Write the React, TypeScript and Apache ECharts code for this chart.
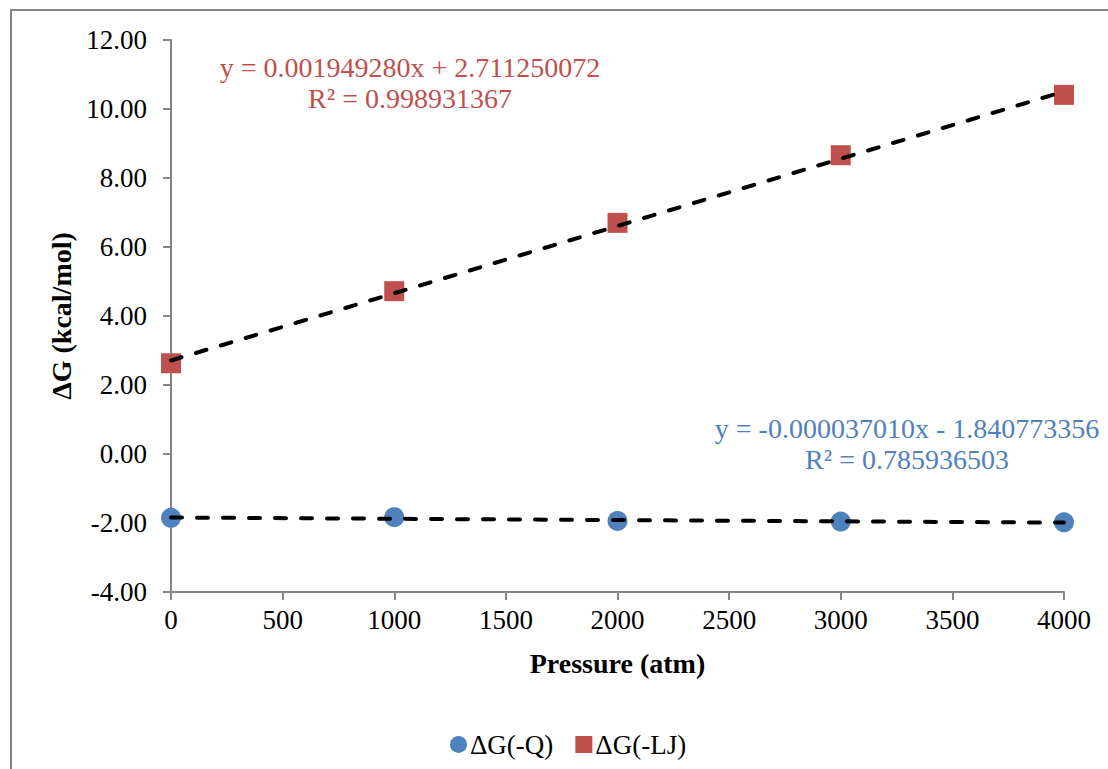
import React, { useEffect, useRef } from "react";
import * as echarts from "echarts";

const pressure = [0, 1000, 2000, 3000, 4000];
const dgQ = [-1.85, -1.83, -1.94, -1.96, -1.98];
const dgLJ = [2.63, 4.72, 6.7, 8.66, 10.41];
const trendQ = { slope: -0.00003701, intercept: -1.840773356 };
const trendLJ = { slope: 0.00194928, intercept: 2.711250072 };
const eqQ = ["y = -0.000037010x - 1.840773356", "R² = 0.785936503"];
const eqLJ = ["y = 0.001949280x + 2.711250072", "R² = 0.998931367"];
const seriesNames = ["ΔG(-Q)", "ΔG(-LJ)"];

const FONT = "'Liberation Serif', 'Times New Roman', serif";
const BLUE = "#4F81BD";
const RED = "#C0504D";
const GRAY = "#868686";

export default function App() {
  const ref = useRef<HTMLDivElement>(null);
  useEffect(() => {
    if (!ref.current) return;
    const chart = echarts.init(ref.current, undefined, { renderer: "svg" });
    const xMin = pressure[0];
    const xMax = pressure[pressure.length - 1];
    const line = (t: { slope: number; intercept: number }) => [
      [xMin, t.slope * xMin + t.intercept],
      [xMax, t.slope * xMax + t.intercept],
    ];
    const trendStyle = {
      color: "#000",
      width: 4,
      type: [11, 15] as any,
      cap: "round" as any,
    };
    chart.setOption({
      animation: false,
      backgroundColor: "#fff",
      textStyle: { fontFamily: FONT },
      grid: { left: 171, right: 44, top: 40, bottom: 177 },
      legend: {
        left: 445,
        top: 726,
        itemWidth: 17,
        itemHeight: 17,
        itemGap: 22,
        textStyle: { fontFamily: FONT, fontSize: 27, color: "#000", padding: [0, 0, 0, -2] },
        data: [
          { name: seriesNames[0], icon: "circle" },
          { name: seriesNames[1], icon: "rect" },
        ],
      },
      xAxis: {
        type: "value",
        min: 0,
        max: 4000,
        interval: 500,
        name: "Pressure (atm)",
        nameLocation: "middle",
        nameGap: 57,
        nameTextStyle: { fontFamily: FONT, fontSize: 28, fontWeight: "bold", color: "#000" },
        axisLine: { show: true, onZero: false, lineStyle: { color: GRAY, width: 2 } },
        axisTick: { show: true, inside: false, length: 8, lineStyle: { color: GRAY, width: 2 } },
        axisLabel: {
          fontFamily: FONT,
          fontSize: 27,
          color: "#000",
          margin: 14,
          formatter: (v: number) => String(v),
        },
        splitLine: { show: false },
      },
      yAxis: {
        type: "value",
        min: -4,
        max: 12,
        interval: 2,
        name: "ΔG (kcal/mol)",
        nameLocation: "middle",
        nameGap: 96,
        nameTextStyle: { fontFamily: FONT, fontSize: 28, fontWeight: "bold", color: "#000" },
        axisLine: { show: true, onZero: false, lineStyle: { color: GRAY, width: 2 } },
        axisTick: { show: true, inside: false, length: 8, lineStyle: { color: GRAY, width: 2 } },
        axisLabel: {
          fontFamily: FONT,
          fontSize: 27,
          color: "#000",
          margin: 24,
          formatter: (v: number) => v.toFixed(2),
        },
        splitLine: { show: false },
      },
      series: [
        {
          name: seriesNames[0],
          type: "scatter",
          symbol: "circle",
          symbolSize: 20,
          itemStyle: { color: BLUE, opacity: 1 },
          data: pressure.map((p, i) => [p, dgQ[i]]),
          z: 2,
        },
        {
          name: seriesNames[1],
          type: "scatter",
          symbol: "rect",
          symbolSize: 20,
          itemStyle: { color: RED, opacity: 1 },
          data: pressure.map((p, i) => [p, dgLJ[i]]),
          z: 2,
        },
        {
          name: "trendQ",
          type: "line",
          data: line(trendQ),
          symbol: "none",
          lineStyle: trendStyle,
          z: 5,
          silent: true,
        },
        {
          name: "trendLJ",
          type: "line",
          data: line(trendLJ),
          symbol: "none",
          lineStyle: trendStyle,
          z: 5,
          silent: true,
        },
      ],
      graphic: [
        {
          type: "rect",
          shape: { x: 11, y: 10, width: 1120, height: 800 },
          style: { fill: "none", stroke: GRAY, lineWidth: 2 },
          silent: true,
        },
        {
          type: "text",
          x: 410,
          y: 67,
          style: { text: eqLJ[0], font: `28px ${FONT}`, fill: RED, textAlign: "center", textVerticalAlign: "middle" },
        },
        {
          type: "text",
          x: 410,
          y: 98,
          style: { text: eqLJ[1], font: `28px ${FONT}`, fill: RED, textAlign: "center", textVerticalAlign: "middle" },
        },
        {
          type: "text",
          x: 907,
          y: 428,
          style: { text: eqQ[0], font: `28px ${FONT}`, fill: BLUE, textAlign: "center", textVerticalAlign: "middle" },
        },
        {
          type: "text",
          x: 907,
          y: 459,
          style: { text: eqQ[1], font: `28px ${FONT}`, fill: BLUE, textAlign: "center", textVerticalAlign: "middle" },
        },
      ],
    });
    return () => chart.dispose();
  }, []);
  return (
    <div
      ref={ref}
      style={{ position: "fixed", left: 0, top: 0, width: 1108, height: 769, background: "#fff" }}
    />
  );
}
